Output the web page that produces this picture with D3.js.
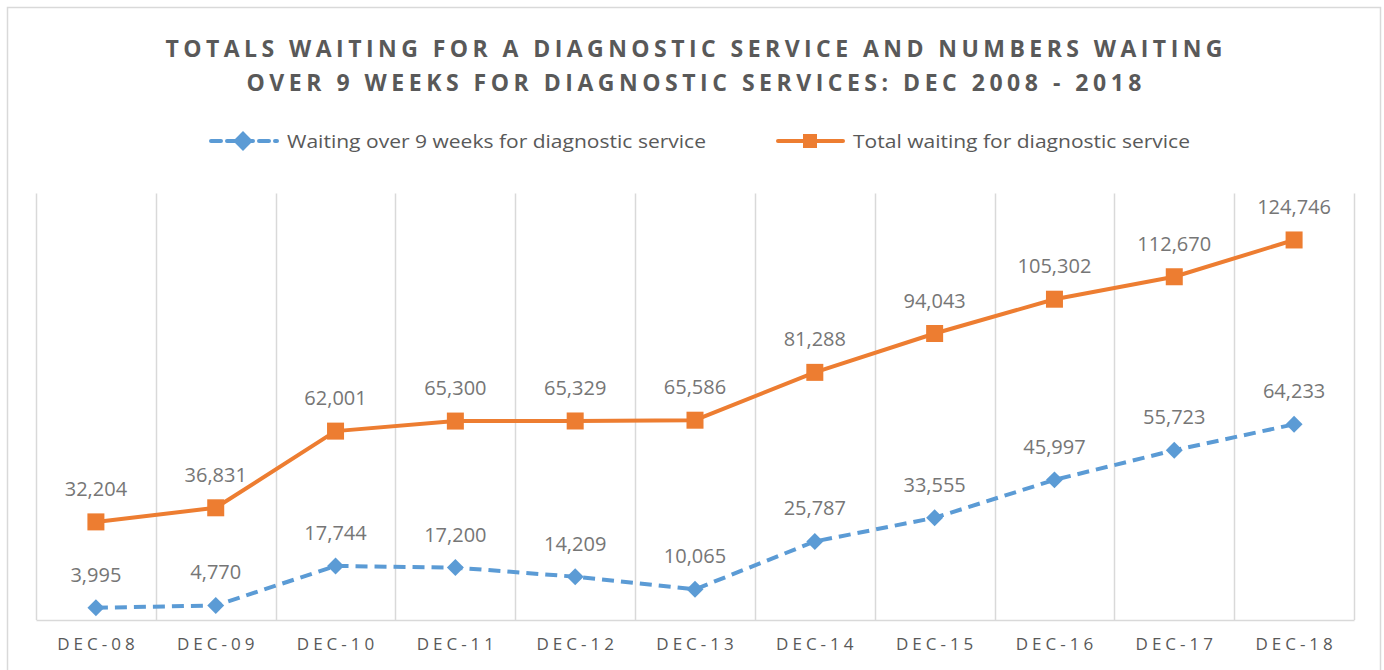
<!DOCTYPE html>
<html>
<head>
<meta charset="utf-8">
<script src="https://cdn.jsdelivr.net/npm/d3@7/dist/d3.min.js"></script>
<style>
html,body{margin:0;padding:0;background:#fff;}
svg{display:block;}
text{font-family:"Open Sans","Noto Sans",sans-serif;}
</style>
</head>
<body>
<svg id="chart" width="1384" height="670"></svg>
<script>
const categories = ["DEC-08","DEC-09","DEC-10","DEC-11","DEC-12","DEC-13","DEC-14","DEC-15","DEC-16","DEC-17","DEC-18"];
const over9Weeks = [3995,4770,17744,17200,14209,10065,25787,33555,45997,55723,64233];
const totalWaiting = [32204,36831,62001,65300,65329,65586,81288,94043,105302,112670,124746];
const seriesNames = ["Waiting over 9 weeks for diagnostic service","Total waiting for diagnostic service"];
const titleLines = ["TOTALS WAITING FOR A DIAGNOSTIC SERVICE AND NUMBERS WAITING","OVER 9 WEEKS FOR DIAGNOSTIC SERVICES: DEC 2008 - 2018"];
const yDomain = [0,140000];

const blue = "#5B9BD5", orange = "#ED7D31", grid = "#d9d9d9", txt = "#595959", lbl = "#767676";
const svg = d3.select("#chart");

// border
svg.append("rect").attr("x",7.5).attr("y",7.5).attr("width",1373).attr("height",670).attr("fill","#fff").attr("stroke",grid).attr("stroke-width",1.5);

const x = d3.scaleBand().domain(categories).range([36,1354]);
const y = d3.scaleLinear().domain(yDomain).range([620,193.5]);

// vertical gridlines at band edges
const edges = categories.map(c=>x(c)).concat([x.range()[1]]);
svg.append("g").selectAll("line").data(edges).join("line")
  .attr("x1",d=>Math.round(d)+0.5).attr("x2",d=>Math.round(d)+0.5)
  .attr("y1",y(yDomain[1])).attr("y2",y(0))
  .attr("stroke",grid).attr("stroke-width",1.5);

// x axis
const xAxis = svg.append("g").attr("transform",`translate(0,${y(0)})`).call(d3.axisBottom(x).tickSize(0).tickPadding(18));
xAxis.select(".domain").attr("stroke",grid).attr("stroke-width",1.5);
xAxis.selectAll("text").attr("fill",txt).style("font-size","17px").style("letter-spacing","4px").attr("font-family","'Open Sans',sans-serif").attr("dx","2px");

const cx = c => x(c)+x.bandwidth()/2;

// title
svg.append("g").selectAll("text").data(titleLines).join("text")
  .attr("x",694).attr("y",(d,i)=>57+i*34)
  .attr("text-anchor","middle").attr("fill",txt)
  .style("font-size","23px").style("font-weight","bold")
  .attr("textLength",(d,i)=>i===0?1057:895).attr("lengthAdjust","spacing")
  .text(d=>d);

// legend
const lg = svg.append("g");
lg.append("line").attr("x1",211).attr("x2",277).attr("y1",141).attr("y2",141).attr("stroke",blue).attr("stroke-width",4).attr("stroke-dasharray","10,6").attr("stroke-linecap","round");
lg.append("rect").attr("x",236).attr("y",134).attr("width",14).attr("height",14).attr("fill",blue).attr("transform","rotate(45,243,141)");
lg.append("text").attr("x",287).attr("y",148).attr("fill",txt).style("font-size","19px").attr("textLength",419).attr("lengthAdjust","spacingAndGlyphs").text(seriesNames[0]);
lg.append("line").attr("x1",778).attr("x2",843).attr("y1",141).attr("y2",141).attr("stroke",orange).attr("stroke-width",4).attr("stroke-linecap","round");
lg.append("rect").attr("x",803).attr("y",134).attr("width",14).attr("height",14).attr("fill",orange);
lg.append("text").attr("x",853).attr("y",148).attr("fill",txt).style("font-size","19px").attr("textLength",337).attr("lengthAdjust","spacingAndGlyphs").text(seriesNames[1]);

const line = d3.line().x((d,i)=>cx(categories[i])).y(d=>y(d));

// total series
svg.append("path").datum(totalWaiting).attr("d",line).attr("fill","none").attr("stroke",orange).attr("stroke-width",4).attr("stroke-linejoin","round");
svg.append("g").selectAll("rect").data(totalWaiting).join("rect")
  .attr("x",(d,i)=>cx(categories[i])-8.5).attr("y",d=>y(d)-8.5).attr("width",17).attr("height",17).attr("fill",orange);

// over 9 weeks series
svg.append("path").datum(over9Weeks).attr("d",line).attr("fill","none").attr("stroke",blue).attr("stroke-width",4).attr("stroke-dasharray","12,7").attr("stroke-linejoin","round");
svg.append("g").selectAll("rect").data(over9Weeks).join("rect")
  .attr("x",(d,i)=>cx(categories[i])-6).attr("y",d=>y(d)-6).attr("width",12).attr("height",12).attr("fill",blue)
  .attr("transform",(d,i)=>`rotate(45,${cx(categories[i])},${y(d)})`);

// data labels
const fmt = d3.format(",");
function labels(data){
  svg.append("g").selectAll("text").data(data).join("text")
    .attr("x",(d,i)=>cx(categories[i])).attr("y",d=>y(d)-26)
    .attr("text-anchor","middle").attr("fill",lbl).style("font-size","20px")
    .text(d=>fmt(d));
}
labels(totalWaiting);
labels(over9Weeks);
</script>
</body>
</html>
